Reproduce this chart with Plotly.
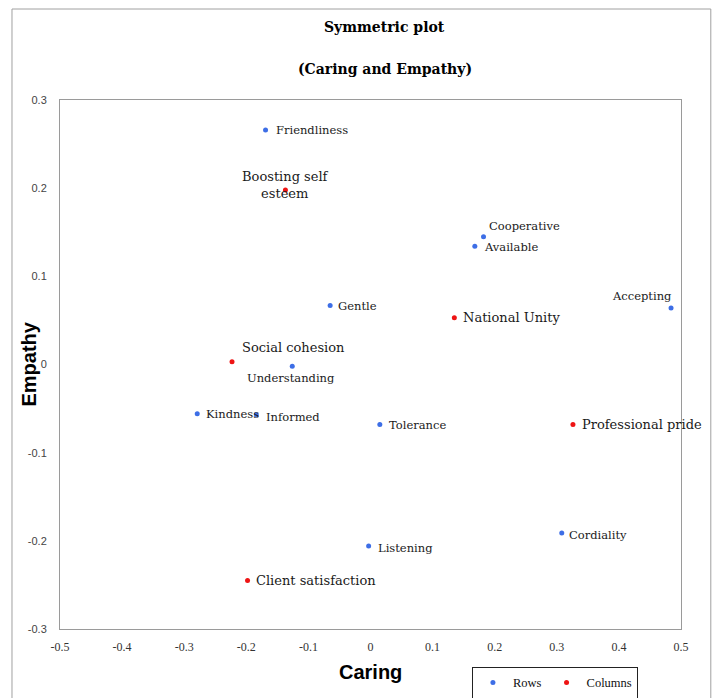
import plotly.graph_objects as go

# ---- data ----
row_labels = ["Friendliness", "Cooperative", "Available", "Gentle", "Accepting",
              "Understanding", "Kindness", "Informed", "Tolerance", "Cordiality", "Listening"]
row_caring = [-0.169, 0.182, 0.168, -0.065, 0.484, -0.126, -0.279, -0.184, 0.015, 0.308, -0.003]
row_empathy = [0.266, 0.145, 0.134, 0.067, 0.064, -0.002, -0.056, -0.057, -0.068, -0.191, -0.206]

col_labels = ["Boosting self<br>esteem", "National Unity", "Social cohesion",
              "Professional pride", "Client satisfaction"]
col_caring = [-0.137, 0.135, -0.223, 0.326, -0.198]
col_empathy = [0.198, 0.053, 0.003, -0.068, -0.245]

x_ticks = [-0.5, -0.4, -0.3, -0.2, -0.1, 0, 0.1, 0.2, 0.3, 0.4, 0.5]
y_ticks = [-0.3, -0.2, -0.1, 0, 0.1, 0.2, 0.3]

# ---- label placement styles (anchor, xshift, yshift) ----
row_place = {
    "Friendliness": ("left", 8, 0),
    "Cooperative": ("left", 3, 11),
    "Available": ("left", 7, -1),
    "Gentle": ("left", 6, -1),
    "Accepting": ("right", 3, 12),
    "Understanding": ("center", -1, -12),
    "Kindness": ("left", 7, 0),
    "Informed": ("left", 8, -2),
    "Tolerance": ("left", 7, -1),
    "Cordiality": ("left", 5, -2),
    "Listening": ("left", 7, -2),
}
col_place = {
    "Boosting self<br>esteem": ("center", 0, 5),
    "National Unity": ("left", 7, 0),
    "Social cohesion": ("left", 8, 14),
    "Professional pride": ("left", 7, 0),
    "Client satisfaction": ("left", 6, 0),
}

BLUE = "#3d6ee6"
RED = "#ee1414"
SERIF = "DejaVu Serif"
SANS = "Liberation Sans"

fig = go.Figure()
fig.add_trace(go.Scatter(x=row_caring, y=row_empathy, mode="markers", name="Rows",
                         marker=dict(color=BLUE, size=5), hoverinfo="skip"))
fig.add_trace(go.Scatter(x=col_caring, y=col_empathy, mode="markers", name="Columns",
                         marker=dict(color=RED, size=5), hoverinfo="skip"))

annotations = []
for lab, xv, yv in zip(row_labels, row_caring, row_empathy):
    anc, dx, dy = row_place[lab]
    annotations.append(dict(x=xv, y=yv, xref="x", yref="y", text=lab, showarrow=False,
                            xanchor=anc, yanchor="middle", xshift=dx, yshift=dy,
                            font=dict(family=SERIF, size=11.5, color="#1a1a1a")))
for lab, xv, yv in zip(col_labels, col_caring, col_empathy):
    anc, dx, dy = col_place[lab]
    annotations.append(dict(x=xv, y=yv, xref="x", yref="y", text=lab, showarrow=False,
                            xanchor=anc, yanchor="middle", xshift=dx, yshift=dy,
                            font=dict(family=SERIF, size=13, color="#1a1a1a")))

# titles
annotations.append(dict(x=0.523, y=1.138, xref="paper", yref="paper", text="<b>Symmetric plot</b>",
                        showarrow=False, xanchor="center", yanchor="middle",
                        font=dict(family=SERIF, size=14, color="#000")))
annotations.append(dict(x=0.523, y=1.0586, xref="paper", yref="paper", text="<b>(Caring and Empathy)</b>",
                        showarrow=False, xanchor="center", yanchor="middle",
                        font=dict(family=SERIF, size=14, color="#000")))
# axis titles
annotations.append(dict(x=0.5, y=-0.0813, xref="paper", yref="paper", text="<b>Caring</b>",
                        showarrow=False, xanchor="center", yanchor="middle",
                        font=dict(family=SANS, size=20, color="#000")))
annotations.append(dict(x=-0.0515, y=0.5, xref="paper", yref="paper", text="<b>Empathy</b>",
                        showarrow=False, xanchor="center", yanchor="middle", textangle=-90,
                        font=dict(family=SANS, size=20, color="#000")))

fig.update_layout(
    width=717, height=698,
    margin=dict(l=60, r=36, t=100, b=69, autoexpand=False),
    paper_bgcolor="white", plot_bgcolor="white",
    showlegend=True,
    legend=dict(orientation="h", x=0.797, y=-0.0718, xanchor="center", yanchor="top",
                bordercolor="#222", borderwidth=1, bgcolor="white",
                font=dict(family="Liberation Serif", size=12.5, color="#111"), itemwidth=30,
                tracegroupgap=0),
    annotations=annotations,
    shapes=[dict(type="rect", xref="paper", yref="paper", x0=-0.0773, x1=1.048,
                 y0=-0.3, y1=1.172, line=dict(color="#a0a0a0", width=1),
                 fillcolor="rgba(0,0,0,0)", layer="below")],
)
fig.update_xaxes(range=[-0.5, 0.5], tickvals=x_ticks, ticktext=[f"{v:g}" for v in x_ticks],
                 showgrid=False, zeroline=False, showline=True, mirror=True,
                 linecolor="#9a9a9a", linewidth=1, ticks="outside", ticklen=7,
                 tickcolor="rgba(0,0,0,0)", tickfont=dict(family="Liberation Serif", size=12, color="#333"))
fig.update_yaxes(range=[-0.3, 0.3], tickvals=y_ticks, ticktext=[f"{v:g}" for v in y_ticks],
                 showgrid=False, zeroline=False, showline=True, mirror=True,
                 linecolor="#9a9a9a", linewidth=1, ticks="outside", ticklen=10,
                 tickcolor="rgba(0,0,0,0)", tickfont=dict(family=SANS, size=11, color="#444"))

fig.write_html("out.html", config={"displayModeBar": False},
               post_script="document.body.style.margin='0';document.body.style.overflow='hidden';")
